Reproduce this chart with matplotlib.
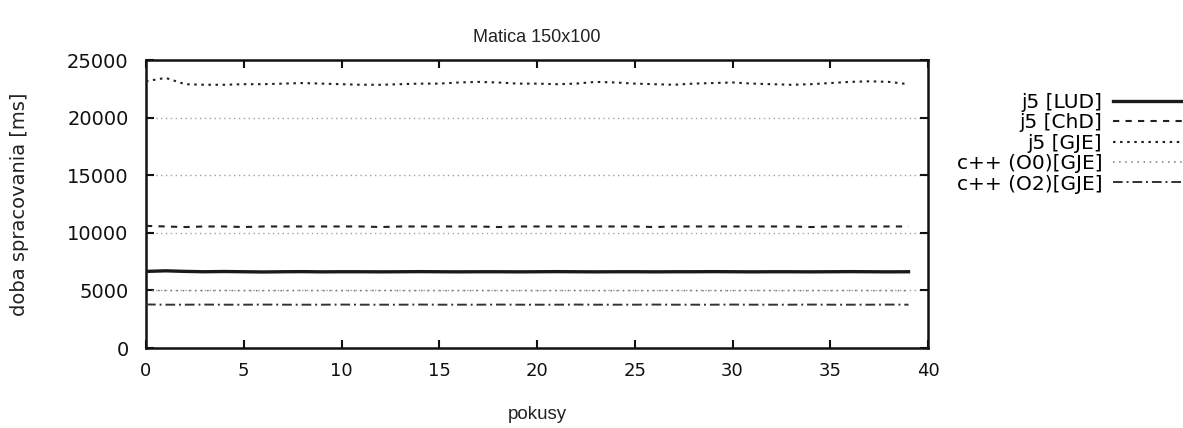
import matplotlib.pyplot as plt

plt.rcParams["font.family"] = ["DejaVu Sans"]

# run index of each measurement
pokusy = list(range(40))

# processing time per run [ms]
j5_lud = [6650, 6700, 6650, 6620, 6640, 6620, 6600, 6620, 6630, 6610,
          6620, 6620, 6610, 6620, 6630, 6620, 6610, 6620, 6620, 6610,
          6620, 6630, 6620, 6610, 6620, 6620, 6610, 6620, 6620, 6630,
          6620, 6610, 6620, 6620, 6610, 6620, 6630, 6620, 6610, 6620]
j5_chd = [10600, 10550, 10500, 10550, 10550, 10500, 10550, 10550, 10550, 10550,
          10550, 10550, 10500, 10550, 10550, 10550, 10550, 10550, 10500, 10550,
          10550, 10550, 10550, 10550, 10550, 10550, 10500, 10550, 10550, 10550,
          10550, 10550, 10550, 10550, 10500, 10550, 10550, 10550, 10550, 10550]
j5_gje = [23150, 23450, 22900, 22850, 22850, 22900, 22900, 22950, 23000, 22950,
          22900, 22850, 22850, 22900, 22950, 22950, 23050, 23100, 23050, 22950,
          22950, 22900, 22950, 23100, 23050, 22950, 22900, 22850, 22950, 23000,
          23050, 22950, 22900, 22850, 22900, 23000, 23100, 23150, 23100, 22900]
cpp_o0 = [4980, 4990, 4980, 4980, 4990, 4980, 4980, 4980, 4990, 4980,
          4980, 4980, 4990, 4980, 4980, 4980, 4980, 4990, 4980, 4980,
          4980, 4980, 4990, 4980, 4980, 4980, 4980, 4990, 4980, 4980,
          4980, 4990, 4980, 4980, 4980, 4980, 4990, 4980, 4980, 4980]
cpp_o2 = [3780, 3760, 3760, 3770, 3760, 3760, 3770, 3760, 3760, 3760,
          3770, 3760, 3760, 3760, 3770, 3760, 3760, 3760, 3770, 3760,
          3760, 3760, 3770, 3760, 3760, 3760, 3770, 3760, 3760, 3760,
          3770, 3760, 3760, 3760, 3770, 3760, 3760, 3760, 3770, 3760]

fig = plt.figure(figsize=(11.83, 4.28), dpi=100)
ax = fig.add_axes([0.1234, 0.1869, 0.6611, 0.6729])

# horizontal grid like gnuplot's dotted grid
for gy in [5000, 10000, 15000, 20000]:
    ax.axhline(gy, color="#a0a0a0", lw=1.0, dashes=(1, 2.5), zorder=1)

ax.plot(pokusy, j5_lud, color="#1a1a1a", lw=2.4, label="j5 [LUD]", zorder=3)
ax.plot(pokusy, j5_chd, color="#222222", lw=1.5, dashes=(3, 3), label="j5 [ChD]", zorder=3)
ax.plot(pokusy, j5_gje, color="#222222", lw=1.5, dashes=(1.2, 2.2), label="j5 [GJE]", zorder=3)
ax.plot(pokusy, cpp_o0, color="#777777", lw=1.1, dashes=(1, 3), label="c++ (O0)[GJE]", zorder=2)
ax.plot(pokusy, cpp_o2, color="#333333", lw=1.4, dashes=(5, 2, 1, 2), label="c++ (O2)[GJE]", zorder=3)

ax.set_xlim(0, 40)
ax.set_ylim(0, 25000)
ax.set_xticks(range(0, 41, 5))
ax.set_yticks(range(0, 25001, 5000))
ax.tick_params(direction="in", length=6, width=1.5, top=True, right=True,
               colors="#111111")
ax.tick_params(axis="x", labelsize=13, pad=10)
ax.tick_params(axis="y", labelsize=14, pad=12.5)
for s in ax.spines.values():
    s.set_linewidth(1.8)
    s.set_color("#111111")

ax.set_title("Matica 150x100", fontsize=13, pad=13, color="#222222",
             family="Liberation Sans")
ax.set_xlabel("pokusy", fontsize=13.5, labelpad=19, color="#222222",
              family="Liberation Sans")
ax.set_ylabel("doba spracovania [ms]", fontsize=14, labelpad=27, color="#222222")

fig.legend(*ax.get_legend_handles_labels(), loc="upper right",
           bbox_to_anchor=(1.0, 0.783), bbox_transform=fig.transFigure,
           frameon=False, markerfirst=False, fontsize=14.5, handlelength=3.5,
           handletextpad=0.5, labelspacing=0.07, borderpad=0, borderaxespad=0)

fig.savefig("out.png", dpi=100)
